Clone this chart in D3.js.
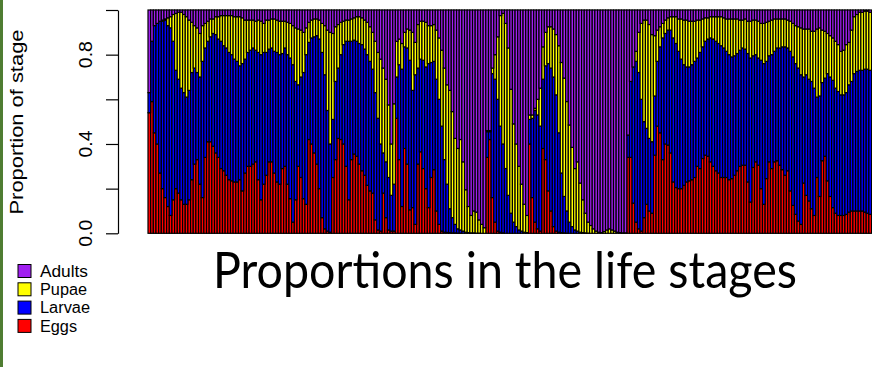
<!DOCTYPE html>
<html>
<head>
<meta charset="utf-8">
<script src="https://cdn.jsdelivr.net/npm/d3@7"></script>
<style>
  html, body { margin: 0; padding: 0; background: #fff; }
  svg { display: block; }
</style>
</head>
<body>
<div id="chart"></div>
<script>
// stacking order, bottom to top
const stages = ["Eggs", "Larvae", "Pupae", "Adults"];
const stageColors = ["#ff0000", "#0000ff", "#ffff00", "#a020f0"];
const legendOrder = ["Adults", "Pupae", "Larvae", "Eggs"];
const yTicks = [0, 0.2, 0.4, 0.6, 0.8, 1];
const yTickLabels = ["0.0", "", "0.4", "", "0.8", ""];

// proportions per time step
const eggs = [
  .54,.59,.45,.40,.27,.20,.16,.12,.08,.15,
  .20,.18,.15,.13,.13,.15,.24,.31,.33,.22,
  .16,.34,.41,.41,.39,.36,.34,.29,.28,.26,
  .24,.235,.23,.23,.24,.19,.27,.30,.30,.31,
  .32,.24,.15,.22,.26,.32,.32,.27,.23,.22,
  .29,.30,.22,.155,.05,.15,.30,.25,.155,.13,
  .42,.40,.36,.31,.20,.07,.02,.01,.005,.25,
  .33,.425,.42,.40,.30,.15,.33,.355,.345,.31,
  .28,.26,.215,.19,.18,.06,.015,.01,.18,.07,
  .015,.01,.01,.515,.33,.12,.38,.31,.105,.115,
  .04,.31,.365,.29,.20,.115,.25,.285,.10,.04,
  .01,.005,.004,.003,.002,.002,.001,.001,0,0,
  0,0,0,0,0,0,0,.34,.42,.16,
  .05,.01,.005,.002,0,0,0,0,0,0,
  0,0,0,.40,.16,.05,.02,.01,.38,.33,
  .19,.10,.03,.01,.005,.003,.002,.001,0,0,
  0,0,0,0,0,0,0,0,0,0,
  0,0,0,0,0,0,0,0,0,0,
  .34,.34,.135,.05,.02,.01,.07,.13,.10,.09,
  .35,.48,.45,.33,.40,.395,.36,.23,.205,.20,
  .20,.215,.23,.235,.24,.25,.30,.29,.335,.35,
  .345,.32,.30,.28,.27,.25,.25,.25,.24,.245,
  .26,.28,.30,.305,.305,.23,.14,.295,.32,.305,
  .20,.13,.245,.32,.29,.32,.325,.305,.285,.26,
  .28,.19,.125,.085,.055,.04,.225,.17,.145,.11,
  .08,.25,.165,.325,.345,.235,.165,.115,.09,.08,
  .08,.08,.085,.095,.10,.10,.10,.10,.10,.095,
  .09,.085
];
const larvae = [
  .09,.27,.48,.54,.68,.75,.795,.81,.84,.71,
  .53,.51,.50,.50,.48,.49,.48,.43,.39,.48,
  .61,.49,.45,.47,.505,.53,.53,.57,.56,.57,
  .57,.565,.55,.54,.51,.57,.51,.51,.52,.52,
  .50,.57,.65,.59,.55,.505,.51,.545,.58,.58,
  .515,.53,.58,.63,.705,.53,.365,.45,.565,.67,
  .435,.475,.52,.575,.67,.74,.69,.54,.395,.26,
  .35,.315,.38,.445,.56,.71,.53,.51,.515,.54,
  .565,.565,.585,.58,.555,.57,.50,.39,.18,.25,
  .235,.16,.21,.185,.425,.615,.455,.52,.67,.525,
  .67,.43,.415,.485,.545,.645,.515,.485,.59,.56,
  .47,.325,.216,.107,.068,.038,.019,.014,.01,.005,
  .003,.002,.002,.001,.001,0,0,.115,.035,.555,
  .64,.59,.475,.398,.29,.17,.09,.05,.03,.015,
  .01,.005,.003,.11,.355,.50,.51,.47,.31,.42,
  .57,.64,.67,.61,.445,.267,.163,.099,.05,.03,
  .015,.01,.005,.003,.002,.001,0,0,0,0,
  0,0,0,0,0,0,0,0,0,0,
  .10,.34,.61,.72,.70,.59,.43,.34,.325,.32,
  .265,.29,.385,.545,.495,.515,.55,.645,.645,.615,
  .58,.54,.515,.51,.515,.52,.485,.52,.50,.51,
  .525,.555,.57,.58,.58,.59,.58,.565,.56,.545,
  .535,.525,.52,.525,.52,.575,.645,.50,.48,.48,
  .575,.63,.525,.475,.51,.495,.505,.525,.55,.575,
  .55,.625,.665,.675,.685,.67,.475,.54,.545,.57,
  .57,.36,.45,.35,.35,.48,.535,.57,.56,.555,
  .54,.54,.545,.57,.58,.615,.625,.63,.63,.64,
  .645,.645
];
const pupae = [
  0,0,0,0,0,.005,.005,.035,.05,.12,
  .255,.30,.34,.35,.36,.315,.225,.19,.20,.195,
  .16,.11,.09,.08,.065,.08,.10,.115,.135,.145,
  .165,.175,.19,.20,.22,.205,.175,.145,.135,.125,
  .13,.145,.15,.13,.145,.13,.13,.145,.145,.15,
  .145,.12,.145,.155,.175,.24,.25,.21,.18,.12,
  .09,.08,.08,.075,.085,.13,.22,.36,.50,.385,
  .245,.195,.145,.105,.095,.095,.10,.10,.11,.12,
  .12,.13,.145,.155,.165,.23,.295,.38,.38,.37,
  .325,.23,.36,.16,.115,.115,.065,.085,.135,.26,
  .145,.195,.17,.175,.20,.17,.165,.165,.22,.275,
  .34,.41,.445,.53,.475,.385,.36,.405,.31,.19,
  .117,.078,.098,.094,.059,.04,.025,.005,.005,.025,
  .11,.28,.495,.585,.65,.66,.555,.44,.37,.285,
  .21,.125,.077,.02,.015,.01,.07,.17,.145,.15,
  .165,.185,.215,.27,.39,.495,.53,.49,.435,.355,
  .275,.31,.22,.147,.088,.049,.035,.02,.01,.005,
  .003,.008,.015,.02,.015,.01,.005,.003,.002,.002,
  0,0,0,.045,.18,.34,.455,.485,.51,.48,
  .27,.14,.09,.065,.06,.055,.06,.095,.12,.145,
  .18,.20,.21,.205,.195,.18,.17,.145,.125,.105,
  .095,.095,.10,.11,.12,.13,.135,.145,.16,.17,
  .165,.155,.135,.125,.135,.145,.165,.16,.155,.165,
  .165,.18,.175,.155,.155,.145,.13,.13,.125,.125,
  .125,.135,.15,.17,.185,.21,.215,.205,.225,.225,
  .255,.305,.305,.235,.21,.18,.185,.19,.21,.21,
  .195,.20,.215,.19,.23,.255,.255,.26,.26,.26,
  .26,.26
];
const adults = [
  .37,.14,.07,.06,.05,.045,.04,.035,.03,.02,
  .015,.01,.01,.02,.03,.045,.055,.07,.08,.105,
  .07,.06,.05,.04,.04,.03,.03,.025,.025,.025,
  .025,.025,.03,.03,.03,.035,.045,.045,.045,.045,
  .05,.045,.05,.06,.045,.045,.04,.04,.045,.05,
  .05,.05,.055,.06,.07,.08,.085,.09,.10,.08,
  .055,.045,.04,.04,.045,.06,.07,.09,.10,.105,
  .075,.065,.055,.05,.045,.045,.04,.035,.03,.03,
  .035,.045,.055,.075,.10,.14,.19,.22,.26,.31,
  .425,.60,.42,.14,.13,.15,.10,.085,.09,.10,
  .145,.065,.05,.05,.055,.07,.07,.065,.09,.125,
  .18,.26,.335,.36,.455,.575,.62,.58,.68,.805,
  .88,.92,.90,.905,.94,.96,.975,.54,.54,.26,
  .20,.12,.025,.015,.06,.17,.355,.51,.60,.70,
  .78,.87,.92,.47,.47,.44,.40,.35,.165,.10,
  .075,.075,.085,.11,.16,.235,.305,.41,.515,.615,
  .71,.68,.775,.85,.91,.95,.965,.98,.99,.995,
  .997,.992,.985,.98,.985,.99,.995,.997,.998,.998,
  .56,.32,.255,.185,.10,.06,.045,.045,.065,.11,
  .115,.09,.075,.06,.045,.035,.03,.03,.03,.04,
  .04,.045,.045,.05,.05,.05,.045,.045,.04,.035,
  .035,.03,.03,.03,.03,.03,.035,.04,.04,.04,
  .04,.04,.045,.045,.04,.05,.05,.045,.045,.05,
  .06,.06,.055,.05,.045,.04,.04,.04,.04,.04,
  .045,.05,.06,.07,.075,.08,.085,.085,.085,.095,
  .095,.085,.08,.09,.095,.105,.115,.125,.14,.155,
  .185,.18,.155,.145,.09,.03,.02,.01,.01,.005,
  .005,.01
];

const width = 872, height = 367;
const barWidth = 2.66;
const font = "Liberation Sans, Arial, sans-serif";

const svg = d3.select("#chart").append("svg")
  .attr("width", width)
  .attr("height", height);

// green slide edge on the left
svg.append("rect")
  .attr("x", 0).attr("y", 0)
  .attr("width", 3).attr("height", height)
  .attr("fill", "#4f7d32");

const rows = eggs.map((e, i) => ({
  step: i, Eggs: e, Larvae: larvae[i], Pupae: pupae[i], Adults: adults[i]
}));
const series = d3.stack().keys(stages)(rows);

const x = d3.scaleBand()
  .domain(rows.map(d => d.step))
  .range([148, 148 + rows.length * barWidth])
  .padding(0);
const y = d3.scaleLinear().domain([0, 1]).range([233.3, 10]);
const color = d3.scaleOrdinal().domain(stages).range(stageColors);

// stacked bars
svg.append("g")
  .attr("stroke", "#000")
  .attr("stroke-width", 1.2)
  .selectAll("g")
  .data(series)
  .join("g")
  .attr("fill", d => color(d.key))
  .selectAll("rect")
  .data(d => d)
  .join("rect")
  .attr("x", d => x(d.data.step))
  .attr("width", x.bandwidth())
  .attr("y", d => y(d[1]))
  .attr("height", d => Math.max(0, y(d[0]) - y(d[1])));

// y axis
svg.append("g")
  .attr("transform", "translate(118,0)")
  .call(d3.axisLeft(y).tickValues(yTicks).tickSize(12).tickSizeOuter(0).tickFormat(""))
  .call(g => g.selectAll("path, line").attr("stroke", "#000").attr("stroke-width", 1.2));

// the original plot is stretched vertically, so rotated text is drawn longer
svg.append("g")
  .attr("font-family", font)
  .attr("font-size", 18)
  .selectAll("text")
  .data(yTicks.filter((d, i) => yTickLabels[i]))
  .join("text")
  .attr("transform", d => `translate(92,${y(d)}) rotate(-90)`)
  .attr("text-anchor", "middle")
  .attr("textLength", 27)
  .attr("lengthAdjust", "spacingAndGlyphs")
  .text(d => yTickLabels[yTicks.indexOf(d)]);

svg.append("text")
  .attr("transform", "translate(23,122) rotate(-90)")
  .attr("text-anchor", "middle")
  .attr("font-family", font)
  .attr("font-size", 18)
  .attr("textLength", 185)
  .attr("lengthAdjust", "spacingAndGlyphs")
  .text("Proportion of stage");

// legend
const legend = svg.append("g")
  .attr("font-family", font)
  .attr("font-size", 16)
  .selectAll("g")
  .data(legendOrder)
  .join("g")
  .attr("transform", (d, i) => `translate(18,${271 + i * 18.3})`);

legend.append("rect")
  .attr("x", 0).attr("y", -6.5)
  .attr("width", 13).attr("height", 13)
  .attr("fill", d => color(d))
  .attr("stroke", "#000")
  .attr("stroke-width", 1);

legend.append("text")
  .attr("x", 22)
  .attr("dy", "0.36em")
  .attr("textLength", d => ({ Adults: 48, Pupae: 47, Larvae: 50, Eggs: 37 })[d])
  .attr("lengthAdjust", "spacingAndGlyphs")
  .text(d => d);

// title
svg.append("text")
  .attr("x", 213)
  .attr("y", 288)
  .attr("font-family", "Lato, Open Sans, sans-serif")
  .attr("font-size", 50)
  .attr("textLength", 584)
  .attr("lengthAdjust", "spacingAndGlyphs")
  .text("Proportions in the life stages");
</script>
</body>
</html>
